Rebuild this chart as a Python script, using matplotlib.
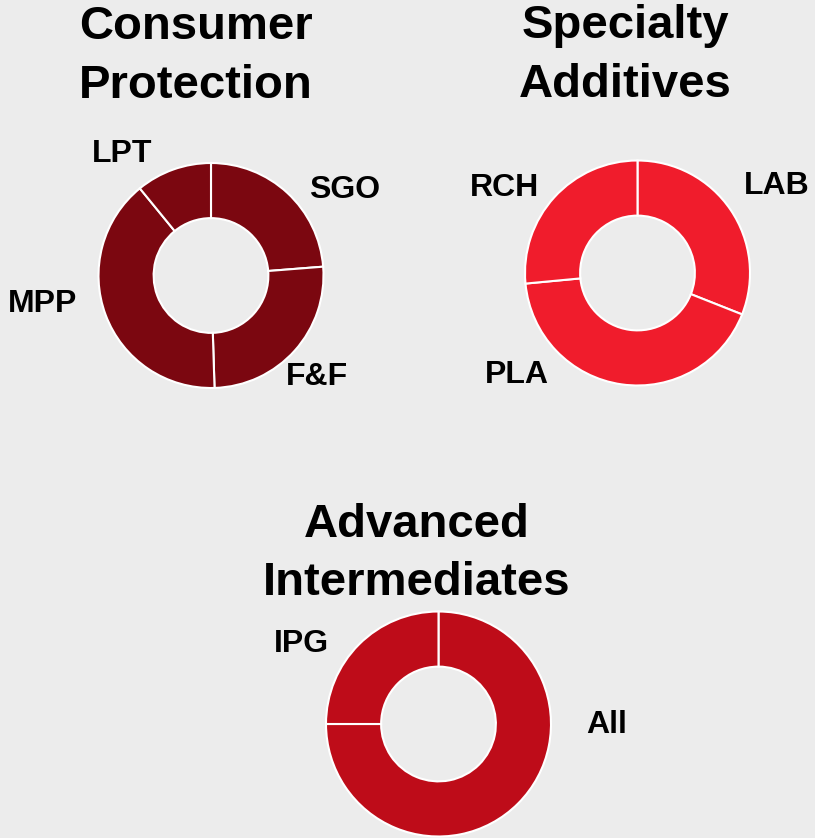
import matplotlib
matplotlib.use("Agg")
import matplotlib.pyplot as plt

# ---- data ----
cp_labels = ["SGO", "F&F", "MPP", "LPT"]
cp_values = [23.75, 25.75, 39.6, 10.9]

sa_labels = ["LAB", "PLA", "RCH"]
sa_values = [31.0, 42.5, 26.5]

ai_labels = ["All", "IPG"]
ai_values = [75.0, 25.0]

titles = [["Consumer", "Protection"], ["Specialty", "Additives"], ["Advanced", "Intermediates"]]

# ---- style ----
W, H = 815, 838
BG = "#ececec"
colors = ["#7b0710", "#f01c2c", "#be0c19"]
FONT = "Liberation Sans"

fig = plt.figure(figsize=(W / 100, H / 100), dpi=100, facecolor=BG)

def px(x, y):
    return x / W, 1 - y / H

R = 112.5
centers = [(211, 275.5), (637.5, 273), (438.5, 724)]
datasets = [(cp_labels, cp_values), (sa_labels, sa_values), (ai_labels, ai_values)]

# label positions (pixels): x centre, baseline y
label_pos = [
    {"SGO": (345, 198), "F&F": (317, 385), "MPP": (43, 311.5), "LPT": (121.7, 162.5)},
    {"LAB": (777, 194), "PLA": (517, 382.5), "RCH": (505, 196.5)},
    {"All": (607, 733), "IPG": (301.5, 651.5)},
]
title_pos = [(196, 39, 98), (625.5, 38, 97), (416.5, 537, 595)]

for i, ((labs, vals), (cx, cy)) in enumerate(zip(datasets, centers)):
    ax = fig.add_axes([(cx - R) / W, (H - cy - R) / H, 2 * R / W, 2 * R / H])
    ax.set_facecolor("none")
    ax.pie(vals, colors=[colors[i]] * len(vals), startangle=90, counterclock=False,
           radius=1, wedgeprops=dict(width=0.49, edgecolor="white", linewidth=1.5))
    ax.set_xlim(-1.0, 1.0)
    ax.set_ylim(-1.0, 1.0)
    ax.set_aspect("equal")
    ax.axis("off")
    for lab in labs:
        x, y = label_pos[i][lab]
        fig.text(*px(x, y), lab, ha="center", va="baseline", fontsize=23,
                 fontweight="bold", family=FONT, color="black")
    tx, b1, b2 = title_pos[i]
    fig.text(*px(tx, b1), titles[i][0], ha="center", va="baseline", fontsize=34,
             fontweight="bold", family=FONT, color="black")
    fig.text(*px(tx, b2), titles[i][1], ha="center", va="baseline", fontsize=34,
             fontweight="bold", family=FONT, color="black")

fig.savefig("out.png", dpi=100, facecolor=BG)
